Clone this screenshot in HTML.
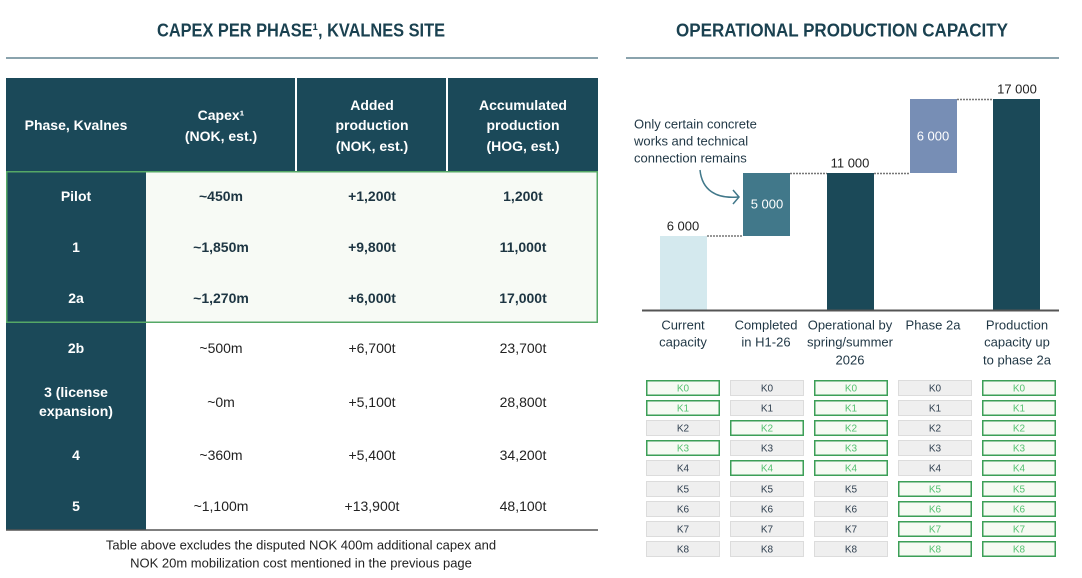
<!DOCTYPE html>
<html><head><meta charset="utf-8"><style>
html,body{margin:0;padding:0;background:#fff;width:1082px;height:578px;overflow:hidden}
svg{display:block;font-family:"Liberation Sans",Arial,sans-serif}
</style></head><body>
<svg width="1082" height="578" viewBox="0 0 1082 578" xmlns="http://www.w3.org/2000/svg">
<!-- LEFT -->
<text x="301" y="36.5" text-anchor="middle" font-size="18.5" font-weight="bold" fill="#1a4150" textLength="288" lengthAdjust="spacingAndGlyphs">CAPEX PER PHASE¹, KVALNES SITE</text>
<line x1="6" y1="58" x2="598" y2="58" stroke="#8aa3ad" stroke-width="2"/>
<!-- header -->
<rect x="6" y="78" width="289" height="93" fill="#1b4959"/>
<rect x="297" y="78" width="149" height="93" fill="#1b4959"/>
<rect x="448" y="78" width="150" height="93" fill="#1b4959"/>
<g fill="#fff" font-size="14" font-weight="bold" text-anchor="middle">
<text x="76" y="130">Phase, Kvalnes</text>
<text x="221" y="120">Capex¹</text>
<text x="221" y="141">(NOK, est.)</text>
<text x="372" y="110">Added</text>
<text x="372" y="130">production</text>
<text x="372" y="151">(NOK, est.)</text>
<text x="523" y="110">Accumulated</text>
<text x="523" y="130">production</text>
<text x="523" y="151">(HOG, est.)</text>
</g>
<!-- body -->
<rect x="6.75" y="171.75" width="590.5" height="150.5" fill="#f7faf5"/>
<rect x="6" y="171" width="140" height="359" fill="#1b4959"/>
<rect x="6.75" y="171.75" width="590.5" height="150.5" fill="none" stroke="#55a866" stroke-width="1.5"/>
<line x1="6" y1="530" x2="598" y2="530" stroke="#555" stroke-width="1.5"/>
<g fill="#fff" font-size="14" font-weight="bold" text-anchor="middle">
<text x="76" y="201">Pilot</text>
<text x="76" y="252">1</text>
<text x="76" y="303">2a</text>
<text x="76" y="353">2b</text>
<text x="76" y="397">3 (license</text>
<text x="76" y="416">expansion)</text>
<text x="76" y="460">4</text>
<text x="76" y="511">5</text>
</g>
<g fill="#1d3542" font-size="14" font-weight="bold" text-anchor="middle">
<text x="221" y="201">~450m</text><text x="372" y="201">+1,200t</text><text x="523" y="201">1,200t</text>
<text x="221" y="252">~1,850m</text><text x="372" y="252">+9,800t</text><text x="523" y="252">11,000t</text>
<text x="221" y="303">~1,270m</text><text x="372" y="303">+6,000t</text><text x="523" y="303">17,000t</text>
</g>
<g fill="#222" font-size="14" text-anchor="middle">
<text x="221" y="353">~500m</text><text x="372" y="353">+6,700t</text><text x="523" y="353">23,700t</text>
<text x="221" y="407">~0m</text><text x="372" y="407">+5,100t</text><text x="523" y="407">28,800t</text>
<text x="221" y="460">~360m</text><text x="372" y="460">+5,400t</text><text x="523" y="460">34,200t</text>
<text x="221" y="511">~1,100m</text><text x="372" y="511">+13,900t</text><text x="523" y="511">48,100t</text>
</g>
<g fill="#222" font-size="13" text-anchor="middle">
<text x="301" y="549.5">Table above excludes the disputed NOK 400m additional capex and</text>
<text x="301" y="567.5">NOK 20m mobilization cost mentioned in the previous page</text>
</g>

<!-- RIGHT -->
<text x="842" y="36.5" text-anchor="middle" font-size="18.5" font-weight="bold" fill="#1a4150" textLength="332" lengthAdjust="spacingAndGlyphs">OPERATIONAL PRODUCTION CAPACITY</text>
<line x1="626" y1="58" x2="1059" y2="58" stroke="#8aa3ad" stroke-width="2"/>
<!-- bars -->
<rect x="660" y="236" width="47" height="74" fill="#d4e9ee"/>
<rect x="743" y="173" width="47" height="63" fill="#41788a"/>
<rect x="827" y="173" width="47" height="137" fill="#1b4958"/>
<rect x="910" y="99" width="47" height="74" fill="#778eb5"/>
<rect x="993" y="99" width="47" height="211" fill="#1b4958"/>
<g stroke="#777" stroke-width="1.5" stroke-dasharray="2,1">
<line x1="707" y1="236" x2="743" y2="236"/>
<line x1="790" y1="173.5" x2="827" y2="173.5"/>
<line x1="874" y1="173.5" x2="910" y2="173.5"/>
<line x1="957" y1="99.5" x2="993" y2="99.5"/>
</g>
<line x1="642" y1="310.5" x2="1059" y2="310.5" stroke="#555" stroke-width="2"/>
<g font-size="13" text-anchor="middle">
<text x="683" y="230.5" fill="#222">6 000</text>
<text x="767" y="208.5" fill="#fff">5 000</text>
<text x="850" y="167.5" fill="#222">11 000</text>
<text x="933" y="140.5" fill="#fff">6 000</text>
<text x="1017" y="93.5" fill="#222">17 000</text>
</g>
<g font-size="13" fill="#1f3644">
<text x="634" y="128.5">Only certain concrete</text>
<text x="634" y="145.5">works and technical</text>
<text x="634" y="162.5">connection remains</text>
</g>
<path d="M700,170 C702,190 716,199 738,197" fill="none" stroke="#41788a" stroke-width="1.5"/>
<path d="M733,190 L739,197 L733,204" fill="none" stroke="#41788a" stroke-width="1.5"/>
<g font-size="13" fill="#1f3644" text-anchor="middle">
<text x="683" y="329.5">Current</text><text x="683" y="346.5">capacity</text>
<text x="766" y="329.5">Completed</text><text x="766" y="346.5">in H1-26</text>
<text x="850" y="329.5">Operational by</text><text x="850" y="346.5">spring/summer</text><text x="850" y="364.5">2026</text>
<text x="933" y="329.5">Phase 2a</text>
<text x="1017" y="329.5">Production</text><text x="1017" y="346.5">capacity up</text><text x="1017" y="364.5">to phase 2a</text>
</g>

<!-- K grid -->
<defs>
<g id="gr"><rect x="0.75" y="0.75" width="72.5" height="14.5" fill="#f6faf3" stroke="#3c9f57" stroke-width="1.5"/></g>
<g id="gy"><rect x="0.5" y="0.5" width="73" height="15" fill="#efefef" stroke="#dcdcdc" stroke-width="1"/></g>
</defs>
<g font-size="10" text-anchor="middle">
<use href="#gr" x="646" y="380"/><text x="683" y="391.5" fill="#54c070">K0</text>
<use href="#gr" x="646" y="400"/><text x="683" y="411.5" fill="#54c070">K1</text>
<use href="#gy" x="646" y="420"/><text x="683" y="431.5" fill="#2f3f4f">K2</text>
<use href="#gr" x="646" y="440"/><text x="683" y="451.5" fill="#54c070">K3</text>
<use href="#gy" x="646" y="460"/><text x="683" y="471.5" fill="#2f3f4f">K4</text>
<use href="#gy" x="646" y="481"/><text x="683" y="492.5" fill="#2f3f4f">K5</text>
<use href="#gy" x="646" y="501"/><text x="683" y="512.5" fill="#2f3f4f">K6</text>
<use href="#gy" x="646" y="521"/><text x="683" y="532.5" fill="#2f3f4f">K7</text>
<use href="#gy" x="646" y="541"/><text x="683" y="552.5" fill="#2f3f4f">K8</text>
<use href="#gy" x="730" y="380"/><text x="767" y="391.5" fill="#2f3f4f">K0</text>
<use href="#gy" x="730" y="400"/><text x="767" y="411.5" fill="#2f3f4f">K1</text>
<use href="#gr" x="730" y="420"/><text x="767" y="431.5" fill="#54c070">K2</text>
<use href="#gy" x="730" y="440"/><text x="767" y="451.5" fill="#2f3f4f">K3</text>
<use href="#gr" x="730" y="460"/><text x="767" y="471.5" fill="#54c070">K4</text>
<use href="#gy" x="730" y="481"/><text x="767" y="492.5" fill="#2f3f4f">K5</text>
<use href="#gy" x="730" y="501"/><text x="767" y="512.5" fill="#2f3f4f">K6</text>
<use href="#gy" x="730" y="521"/><text x="767" y="532.5" fill="#2f3f4f">K7</text>
<use href="#gy" x="730" y="541"/><text x="767" y="552.5" fill="#2f3f4f">K8</text>
<use href="#gr" x="814" y="380"/><text x="851" y="391.5" fill="#54c070">K0</text>
<use href="#gr" x="814" y="400"/><text x="851" y="411.5" fill="#54c070">K1</text>
<use href="#gr" x="814" y="420"/><text x="851" y="431.5" fill="#54c070">K2</text>
<use href="#gr" x="814" y="440"/><text x="851" y="451.5" fill="#54c070">K3</text>
<use href="#gr" x="814" y="460"/><text x="851" y="471.5" fill="#54c070">K4</text>
<use href="#gy" x="814" y="481"/><text x="851" y="492.5" fill="#2f3f4f">K5</text>
<use href="#gy" x="814" y="501"/><text x="851" y="512.5" fill="#2f3f4f">K6</text>
<use href="#gy" x="814" y="521"/><text x="851" y="532.5" fill="#2f3f4f">K7</text>
<use href="#gy" x="814" y="541"/><text x="851" y="552.5" fill="#2f3f4f">K8</text>
<use href="#gy" x="898" y="380"/><text x="935" y="391.5" fill="#2f3f4f">K0</text>
<use href="#gy" x="898" y="400"/><text x="935" y="411.5" fill="#2f3f4f">K1</text>
<use href="#gy" x="898" y="420"/><text x="935" y="431.5" fill="#2f3f4f">K2</text>
<use href="#gy" x="898" y="440"/><text x="935" y="451.5" fill="#2f3f4f">K3</text>
<use href="#gy" x="898" y="460"/><text x="935" y="471.5" fill="#2f3f4f">K4</text>
<use href="#gr" x="898" y="481"/><text x="935" y="492.5" fill="#54c070">K5</text>
<use href="#gr" x="898" y="501"/><text x="935" y="512.5" fill="#54c070">K6</text>
<use href="#gr" x="898" y="521"/><text x="935" y="532.5" fill="#54c070">K7</text>
<use href="#gr" x="898" y="541"/><text x="935" y="552.5" fill="#54c070">K8</text>
<use href="#gr" x="982" y="380"/><text x="1019" y="391.5" fill="#54c070">K0</text>
<use href="#gr" x="982" y="400"/><text x="1019" y="411.5" fill="#54c070">K1</text>
<use href="#gr" x="982" y="420"/><text x="1019" y="431.5" fill="#54c070">K2</text>
<use href="#gr" x="982" y="440"/><text x="1019" y="451.5" fill="#54c070">K3</text>
<use href="#gr" x="982" y="460"/><text x="1019" y="471.5" fill="#54c070">K4</text>
<use href="#gr" x="982" y="481"/><text x="1019" y="492.5" fill="#54c070">K5</text>
<use href="#gr" x="982" y="501"/><text x="1019" y="512.5" fill="#54c070">K6</text>
<use href="#gr" x="982" y="521"/><text x="1019" y="532.5" fill="#54c070">K7</text>
<use href="#gr" x="982" y="541"/><text x="1019" y="552.5" fill="#54c070">K8</text>
</g>
</svg>
</body></html>
